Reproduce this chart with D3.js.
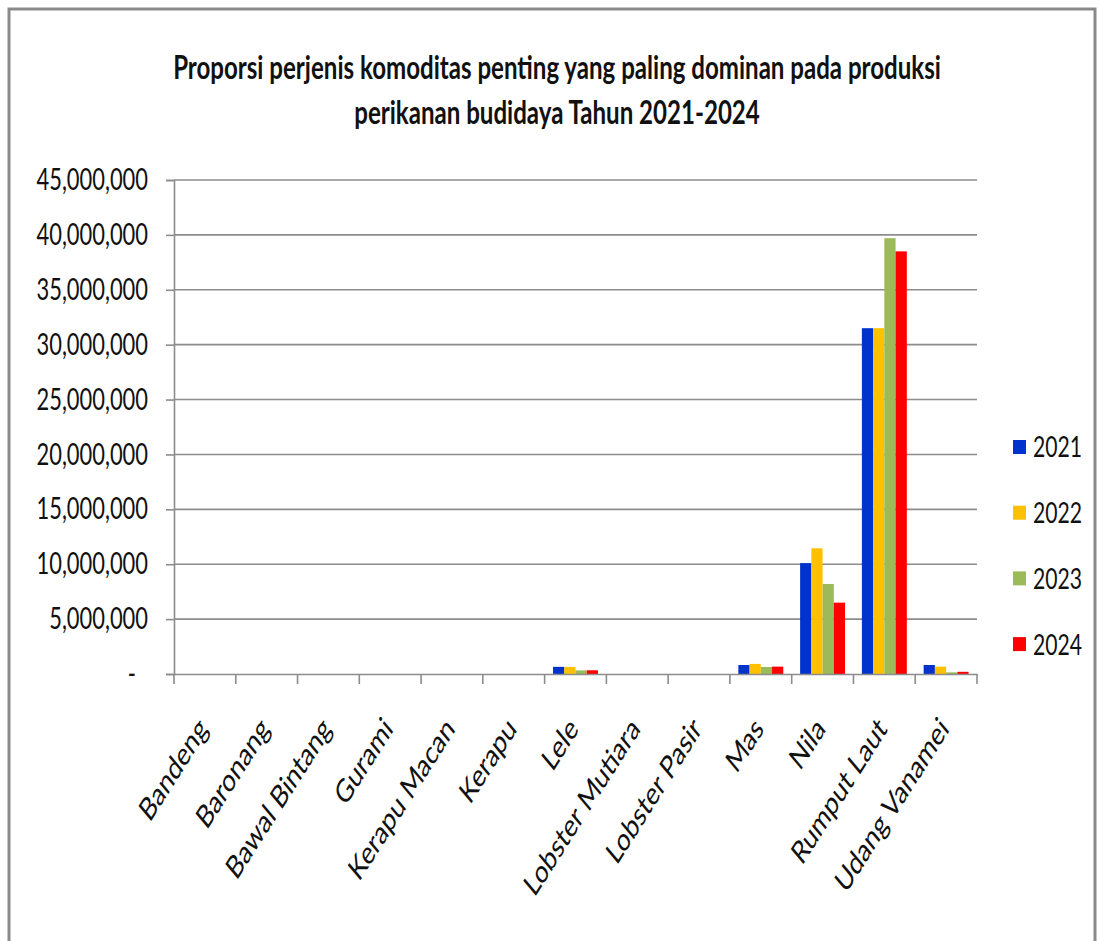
<!DOCTYPE html>
<html>
<head>
<meta charset="utf-8">
<script src="https://cdn.jsdelivr.net/npm/d3@7"></script>
<style>
  body { margin: 0; background: #fff; }
  text { font-family: Lato, "Open Sans", sans-serif; fill: #111; }
</style>
</head>
<body>
<script>
// data
const categories = ["Bandeng", "Baronang", "Bawal Bintang", "Gurami", "Kerapu Macan", "Kerapu",
  "Lele", "Lobster Mutiara", "Lobster Pasir", "Mas", "Nila", "Rumput Laut", "Udang Vanamei"];
const years = ["2021", "2022", "2023", "2024"];
const produksi2021 = [0, 0, 0, 0, 0, 0, 650000, 0, 0, 820000, 10100000, 31500000, 820000];
const produksi2022 = [0, 0, 0, 0, 0, 0, 640000, 0, 0, 920000, 11450000, 31500000, 670000];
const produksi2023 = [0, 0, 0, 0, 0, 0, 330000, 0, 0, 640000, 8200000, 39700000, 150000];
const produksi2024 = [0, 0, 0, 0, 0, 0, 340000, 0, 0, 670000, 6500000, 38500000, 200000];
const yTicks = [0, 5000000, 10000000, 15000000, 20000000, 25000000, 30000000, 35000000, 40000000, 45000000];
const titleLines = ["Proporsi perjenis komoditas penting yang paling dominan pada produksi",
  "perikanan budidaya Tahun 2021-2024"];
const colors = ["#0033cc", "#ffc000", "#9bbb59", "#ff0000"];

const series = [produksi2021, produksi2022, produksi2023, produksi2024];

// the reference is squashed horizontally, text gets the same squash
const S = 0.73;
const W = 1099, H = 941;
const plot = { left: 174, right: 977, top: 180, bottom: 674 };

const svg = d3.select("body").append("svg").attr("width", W).attr("height", H);

// chart frame
svg.append("rect")
  .attr("x", 9).attr("y", 9).attr("width", W - 13).attr("height", H + 20)
  .attr("fill", "none").attr("stroke", "#8a8a8a").attr("stroke-width", 3);

const x0 = d3.scaleBand().domain(categories).range([plot.left, plot.right]).padding(0);
const x1 = d3.scaleBand().domain(years).range([0, x0.bandwidth()]).paddingInner(0).paddingOuter(0.75);
const y = d3.scaleLinear().domain([0, 45000000]).range([plot.bottom, plot.top]);

// gridlines
svg.append("g").selectAll("line").data(yTicks.slice(1)).join("line")
  .attr("x1", plot.left).attr("x2", plot.right)
  .attr("y1", d => y(d)).attr("y2", d => y(d))
  .attr("stroke", "#8c8c8c").attr("stroke-width", 1.6);

// bars
const groups = svg.append("g").selectAll("g").data(categories).join("g")
  .attr("transform", d => `translate(${x0(d)},0)`);
groups.selectAll("rect")
  .data((c, i) => years.map((yr, k) => ({ yr, k, v: series[k][i] })))
  .join("rect")
  .attr("x", d => x1(d.yr))
  .attr("width", x1.bandwidth())
  .attr("y", d => y(d.v))
  .attr("height", d => y(0) - y(d.v))
  .attr("fill", d => colors[d.k]);

// y axis
const fmt = d3.format(",");
const yAxis = svg.append("g")
  .attr("transform", `translate(${plot.left},0)`)
  .call(d3.axisLeft(y).tickValues(yTicks).tickSize(8).tickPadding(18)
    .tickFormat(d => d === 0 ? "-" : fmt(d)));
yAxis.select(".domain").attr("stroke", "#8c8c8c").attr("stroke-width", 1.6);
yAxis.selectAll(".tick line").attr("stroke", "#8c8c8c").attr("stroke-width", 1.6);
yAxis.selectAll(".tick text")
  .attr("font-size", 30).attr("fill", "#111")
  .each(function(d) {
    const tx = +this.getAttribute("x") - (d === 0 ? 12 : 0);
    d3.select(this).attr("x", 0).attr("transform", `translate(${tx},0) scale(${S},1)`);
  });

// x axis
const xAxis = svg.append("g")
  .attr("transform", `translate(0,${plot.bottom})`)
  .call(d3.axisBottom(x0).tickSize(0).tickSizeOuter(0));
xAxis.select(".domain").attr("stroke", "#8c8c8c").attr("stroke-width", 1.6);
xAxis.selectAll(".tick text")
  .attr("font-size", 32).attr("fill", "#111")
  .attr("text-anchor", "end")
  .attr("y", 0).attr("dy", 0)
  .attr("transform", `translate(4,56) scale(${S},1) rotate(-49)`);
// tick marks between categories
xAxis.append("g").selectAll("line")
  .data(categories.map(c => x0(c)).concat([plot.right]))
  .join("line")
  .attr("x1", d => d).attr("x2", d => d)
  .attr("y1", 0).attr("y2", 10)
  .attr("stroke", "#8c8c8c").attr("stroke-width", 1.6);

// title
const title = svg.append("g");
titleLines.forEach((t, i) => {
  title.append("text")
    .attr("text-anchor", "middle")
    .attr("font-size", 33).attr("font-weight", "bold")
    .attr("transform", `translate(557,${79 + i * 45}) scale(${S},1)`)
    .text(t);
});

// legend
const legend = svg.append("g").selectAll("g").data(years).join("g")
  .attr("transform", (d, i) => `translate(1013,${447 + i * 65.7})`);
legend.append("rect")
  .attr("x", 0).attr("y", -7).attr("width", 13).attr("height", 14)
  .attr("fill", (d, i) => colors[i]);
legend.append("text")
  .attr("font-size", 29)
  .attr("dy", "0.36em")
  .attr("transform", `translate(20,0) scale(${S},1)`)
  .text(d => d);
</script>
</body>
</html>
